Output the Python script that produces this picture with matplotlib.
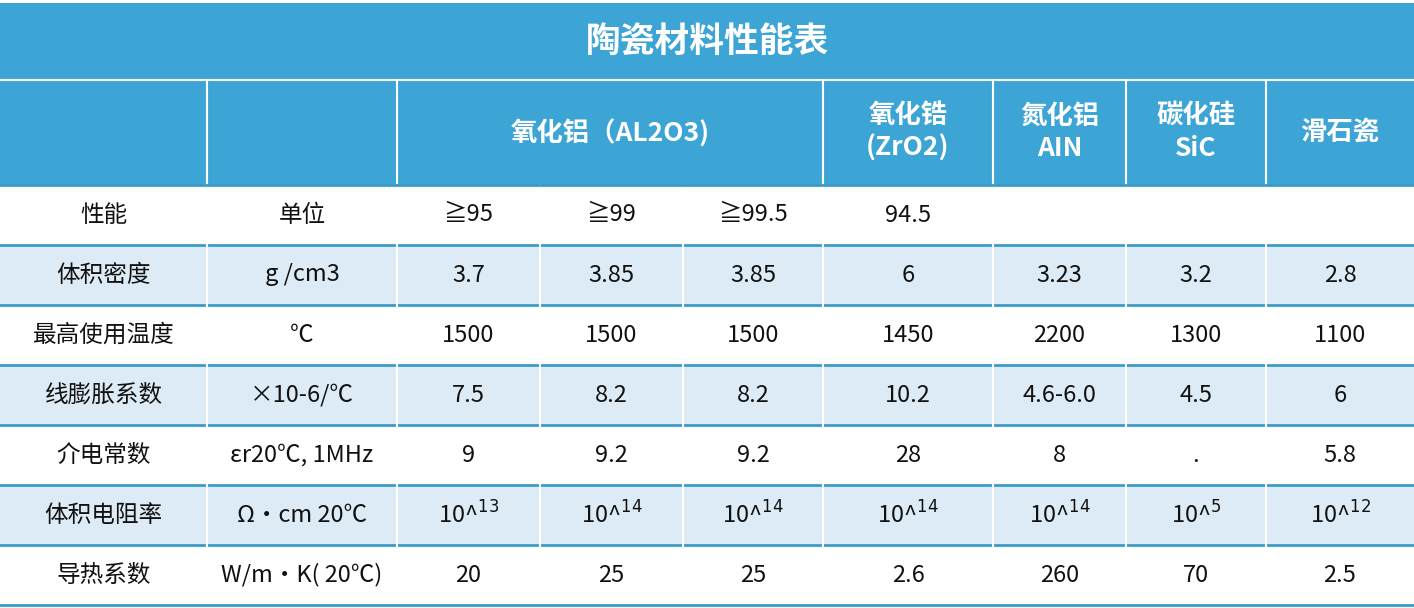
import matplotlib
matplotlib.use("Agg")
import matplotlib.pyplot as plt
from matplotlib.patches import Rectangle

plt.rcParams['font.family'] = ['Noto Sans CJK SC', 'DejaVu Sans']

title = "陶瓷材料性能表"
col_edges = [0, 207, 397, 540, 683, 823, 993, 1126, 1266, 1414]
header_groups = [("", 0, 1), ("", 1, 2), ("氧化铝（AL2O3)", 2, 5), ("氧化锆\n(ZrO2)", 5, 6),
                 ("氮化铝\nAIN", 6, 7), ("碳化硅\nSiC", 7, 8), ("滑石瓷", 8, 9)]
rows = [
    ["性能", "单位", "≧95", "≧99", "≧99.5", "94.5", "", "", ""],
    ["体积密度", "g /cm3", "3.7", "3.85", "3.85", "6", "3.23", "3.2", "2.8"],
    ["最高使用温度", "℃", "1500", "1500", "1500", "1450", "2200", "1300", "1100"],
    ["线膨胀系数", "×10-6/℃", "7.5", "8.2", "8.2", "10.2", "4.6-6.0", "4.5", "6"],
    ["介电常数", "εr20℃, 1MHz", "9", "9.2", "9.2", "28", "8", ".", "5.8"],
    ["体积电阻率", "Ω·cm 20℃", "10^$^{13}$", "10^$^{14}$", "10^$^{14}$", "10^$^{14}$", "10^$^{14}$", "10^$^{5}$", "10^$^{12}$"],
    ["导热系数", "W/m·K( 20℃)", "20", "25", "25", "2.6", "260", "70", "2.5"],
]

W, H = 1414, 608
BLUE = "#3DA5D6"
LIGHT = "#DCEBF5"
LINE = "#3A9DC8"
fig = plt.figure(figsize=(W/100, H/100), dpi=100)
ax = fig.add_axes([0, 0, 1, 1])
ax.set_xlim(0, W); ax.set_ylim(H, 0); ax.axis("off")

title_top, head_top, body_top, row_h = 3, 80, 185, 60
ax.add_patch(Rectangle((0, title_top), W, body_top - title_top, color=BLUE, lw=0))
ax.text(W/2, (title_top + head_top)/2, title, ha="center", va="center", color="white",
        fontsize=25, fontweight="bold")
ax.plot([0, W], [head_top, head_top], color="white", lw=1.5)
for lab, a, b in header_groups:
    x0, x1 = col_edges[a], col_edges[b]
    ax.text((x0+x1)/2, (head_top+body_top)/2, lab, ha="center", va="center", color="white",
            fontsize=19, fontweight="bold", linespacing=1.25)
for e in [207, 397, 823, 993, 1126, 1266]:
    ax.plot([e, e], [head_top, body_top], color="white", lw=1.5)

for r, row in enumerate(rows):
    y0 = body_top + r*row_h
    fc = LIGHT if r % 2 == 1 else "white"
    ax.add_patch(Rectangle((0, y0), W, row_h, color=fc, lw=0))
    for c, val in enumerate(row):
        xc = (col_edges[c] + col_edges[c+1]) / 2
        ax.text(xc, y0 + row_h/2, val, ha="center", va="center", color="#111111", fontsize=17)
    for e in col_edges[1:-1]:
        ax.plot([e, e], [y0, y0+row_h], color="white", lw=1.5)
    ax.plot([0, W], [y0+row_h, y0+row_h], color=LINE, lw=2)
ax.plot([0, W], [body_top, body_top], color=LINE, lw=2)

fig.savefig("out.png", dpi=100)
